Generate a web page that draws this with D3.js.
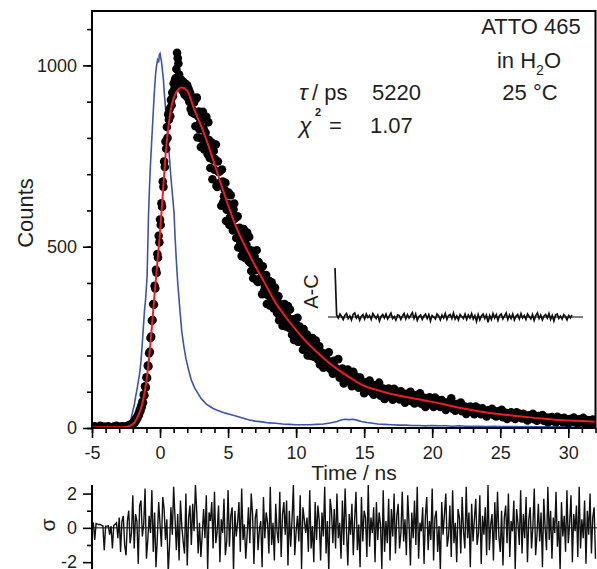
<!DOCTYPE html>
<html>
<head>
<meta charset="utf-8">
<script src="https://cdn.jsdelivr.net/npm/d3@7"></script>
<style>
body{margin:0;background:#fff;}
svg text{font-family:"Liberation Sans",Arial,sans-serif;fill:#231f20;}
</style>
</head>
<body>
<script>
// instrument response (blue), time in ns / counts
var irfT = [-5,-4.5,-4,-3.5,-3,-2.7,-2.5,-2.4,-2.3,-2.2,-2.1,-2.0,-1.9,-1.8,-1.7,-1.6,-1.5,-1.4,-1.3,-1.24,-1.15,-1.05,-0.95,-0.9,-0.85,-0.78,-0.7,-0.6,-0.5,-0.42,-0.33,-0.25,-0.18,-0.1,-0.05,0,0.05,0.1,0.18,0.25,0.32,0.4,0.5,0.6,0.7,0.8,0.92,1.03,1.1,1.2,1.3,1.45,1.6,1.75,1.9,2.1,2.3,2.55,2.8,3.0,3.2,3.4,3.65,3.9,4.2,4.5,4.8,5.1,5.5,6.0,6.5,7.0,7.5,8.0,8.5,9.0,9.5,10,10.5,11,11.5,12,12.5,13,13.3,13.6,13.9,14.2,14.5,14.8,15.2,15.6,16,16.5,17,17.5,18,18.5,19,19.5,20,20.5,21,21.5,22,22.5,23,23.5,24,24.5,25,25.5,26,26.5,27,27.5,28,28.5,29,29.5,30,30.5,31];
var irfC = [1,2,1,2,1,2,3,4,8,15,30,48,62,85,105,128,150,185,235,270,320,360,420,500,585,660,730,800,870,925,975,1000,1015,1008,1030,1033,1022,1012,985,960,920,885,840,790,740,690,640,593,530,460,400,330,265,225,192,160,132,110,95,82,74,66,60,54,49,45,41,38,34,28,23,19,17,14,13,11,10,9,9,9,10,11,14,18,22,24,23,24,21,18,15,13,11,10,9,8,8,7,7,6,7,6,6,5,6,5,5,5,4,5,4,4,4,3,4,3,3,4,3,3,3,2,3];

// fitted decay (red)
var fitT = [-5,-3,-2.5,-2.2,-2.0,-1.85,-1.6,-1.36,-1.2,-1.0,-0.8,-0.6,-0.4,-0.2,0,0.2,0.4,0.6,0.8,1.0,1.3,1.6,2.0,2.5,3.0,3.5,4.0,4.5,5.0,5.5,6.0,6.5,7.0,7.5,8.0,8.5,9.0,9.5,10,10.5,11,11.5,12,12.5,13,13.5,14,14.5,15,16,17,18,19,20,21,22,23,24,25,26,27,28,29,30,31,32];
var fitC = [2,2,3,6,11,17,34,59,85,130,195,280,370,455,540,645,750,825,880,910,932,939,930,880,835,785,728,670,615,563,520,483,447,413,378,345,318,293,270,248,228,210,193,177,163,150,138,126,116,104,94,86,79,72,64,56,49,43,38,34,30,26,23,21,19,17];

// measured decay (black dots), channel blocks
var preStart = -5, preStep = 0.2;
var preCounts = [3,5,2,6,4,3,5,2,4,6,3,5,4];
var riseStart = -2.5, riseStep = 0.05;
var riseCounts = [4,2,6,3,7,4,9,6,11,8,
  14,12,18,16,24,21,30,28,38,36,
  49,46,60,57,72,70,92,90,115,112,
  140,138,172,170,206,210,248,252,296,298,
  342,340,392,385,436,428,480,470,530,512,
  575,560,620,610,680,665,735,720,790,770,
  830,800,865,850,880,860,905,890,925,915,
  950,935,960,965,990,1035,1020,1005,975,965,
  945,960,950,930,955,940,920,950,935,915,
  945,910,935,900,925,880,915,870,900,875];
var tailStart = 2.5, tailStep = 0.1;
var tailCounts = [898,832,911,860,823,775,857,826,798,858,
  755,794,717,787,740,712,782,665,706,708,
  613,680,639,676,602,618,560,642,572,603,
  577,524,584,542,513,474,537,513,493,539,
  461,491,433,489,454,435,490,403,437,440,
  369,422,392,422,367,380,337,402,349,374,
  356,317,363,333,310,282,332,314,299,336,
  276,299,257,300,275,260,304,238,265,267,
  216,256,235,258,218,230,199,248,210,231,
  218,189,225,203,186,166,204,192,180,209,
  163,183,150,185,166,155,190,139,161,164,
  123,157,141,161,129,139,115,155,125,142,
  132,111,139,122,111,96,126,117,110,131,
  100,115,92,118,105,98,125,89,105,109,
  80,105,94,109,87,95,78,108,88,101,
  95,79,101,90,81,70,94,87,82,100,
  74,86,68,90,80,75,96,67,80,83,
  58,81,71,85,66,73,58,84,65,78,
  72,58,77,67,60,50,70,64,60,82,
  53,64,48,66,57,52,70,46,57,59,
  39,57,49,59,44,50,38,59,44,54,
  49,38,54,45,40,32,49,44,41,53,
  36,44,32,46,39,35,50,30,39,42,
  25,40,33,43,29,35,25,43,31,39,
  35,26,39,32,27,21,35,31,28,39,
  24,31,20,33,27,24,36,20,27,29,
  16,28,23,30,19,23,16,31,20,27,
  24,16,28,22,18,13,25,22,19,29,
  16,23,13,24,19,17,28,13,20,22,
  10,21,16,23,13,17];
var midStart = 2.55, midStep = 0.1;
var midCounts = [866,908,801,873,843,798,872,768,814,786,
  843,745,767,686,764,742,668,735,675,676,
  713,623,657,571,644,649,582,595,545,619,
  551,582,498,552,527,492,549,469,505,484,
  527,455,473,413,473,459,405,458,413,416,
  446,379,407,342,399,405,354,366,330,387,
  336,362,297,341,323,296,342,280,308,294,
  327,273,287,243,289,279,238,280,246,250,
  273,225,247,200,244,248,212,222,196,241,
  203,224,175,209,197];

// weighted residuals
var resStart = -5, resStep = 0.1;
var residuals = [0.3,0.28,-0.7,0.25,0.22,0.2,0.2,0.15,0.12,-1.3,0.1,0.1,0.12,-0.4,0.1,-1.2,0.15,0.2,0.3,-0.6,0.6,-1.4,0.4,0.7,-1.0,
  -1.6,0.4,1.0,-0.9,-0.3,1.9,-1.2,0.8,0.4,-2.1,1.3,1.6,-0.5,0.2,2.3,-1.8,-0.7,0.7,-0.3,2.2,
  -1.4,0.9,-2.3,-0.6,1.5,0.2,-1.1,1.8,1.1,-0.7,0.5,-2.6,-1.0,1.2,-0.4,2.4,0.6,-1.3,0.8,-1.9,
  1.6,0.1,-0.8,-1.5,2.0,-2.2,0.6,1.3,-1.0,1.4,-0.2,2.5,0.9,-1.5,0.3,-1.7,-0.4,1.1,-0.6,1.9,
  -2.4,0.9,0.4,1.5,-1.2,2.1,-0.9,-0.2,1.3,-2.0,0.5,-0.3,1.7,-1.6,-0.8,2.2,-1.1,0.7,1.2,-2.5,
  1.0,-0.5,0.3,1.5,-1.4,2.3,-0.7,0.2,-1.8,-0.4,1.2,-0.9,2.0,0.8,-2.1,0.6,1.1,-1.3,-0.1,0.4,
  -2.3,1.8,-0.6,0.9,0.3,-1.5,2.4,-1.0,0.3,-1.9,1.4,-0.2,-0.9,2.1,-1.7,0.8,1.5,-0.4,1.6,-2.2,
  1.0,-1.1,0.5,2.5,-1.6,-0.2,0.7,-0.8,1.9,-2.4,1.2,0.5,-0.3,0.6,-1.4,2.2,-1.2,0.1,-2.0,1.5,
  -0.7,1.3,0.4,-1.9,0.9,-0.5,2.4,-1.5,0.4,-2.6,1.7,1.0,-0.9,1.1,-1.2,2.0,-0.6,0.3,-1.8,1.6,
  -1.0,2.3,-0.1,-2.2,0.8,-0.4,1.4,-1.6,0.5,2.1,-1.3,0.2,-2.3,1.8,-0.8,1.0,0.6,-1.7,2.5,-1.1,
  0.6,-0.3,1.2,-2.0,1.5,-0.7,0.9,0.2,-2.4,2.2,-1.4,0.4,-0.9,1.7,-1.9,1.1,-0.5,2.0,-1.5,0.7,
  1.4,-1.2,-0.3,2.1,-0.8,0.5,-1.6,1.9,0.2,-2.2,0.9,-0.6,1.6,-1.0,2.4,-1.8,0.3,-0.2,1.2,-2.1,
  0.7,1.8,-1.3,0.4,-0.7,2.3,-1.9,0.6,1.0,-1.4,0.1,-2.5,1.5,-0.4,0.8,2.0,-1.1,-0.5,1.3,-1.7,
  2.2,-0.9,0.3,-2.0,1.1,0.6,-1.5,1.8,-0.2,-1.2,2.4,-0.6,0.9,-2.3,1.4,-0.8,0.5,1.7,-1.0,-0.3,
  1.9,-2.1,0.7,-0.4,1.2,-1.6,2.5,-1.3,0.2,0.8,-1.9,1.5,-0.7,2.1,-0.5,-1.4,1.0,-2.2,0.6,1.3,
  -0.9,2.0,-1.7,0.4,-0.2,1.6,-2.4,1.1,0.3,-1.0,2.2,-1.5,0.8,-0.6,1.8,-2.0,0.5,1.2,-1.2,0.1,
  2.3,-1.6,-0.4,1.4,-0.8,0.9,-2.3,1.7,0.0,-1.3,2.4,-0.7,1.0,-1.8,0.6,-0.3,2.1,-1.1,0.4,-2.5,
  1.5,-0.5,0.7,-1.4,2.2,-0.9,0.3,1.9,-2.0,0.8,-0.2,1.3,-1.7,2.4,-1.2,
  0.5,-0.6,1.6,-2.1,1.0,-0.4,2.0,-1.5,0.6,1.2,-1.8];

// autocorrelation of residuals (inset)
var acValues = [1.0,0.04,-0.02,0.06,0.01,-0.05,0.03,0.07,-0.03,0.02,-0.06,
  0.05,0.08,-0.02,0.03,-0.07,0.01,0.05,-0.04,0.06,-0.01,
  0.03,-0.05,0.07,0.02,-0.03,0.04,-0.08,0.01,0.05,-0.02,
  0.06,-0.04,0.02,0.08,-0.03,0.01,-0.06,0.04,0.03,-0.05,
  0.02,0.07,-0.04,0.05,-0.02,0.03,0.09,-0.03,0.06,-0.07,
  0.01,0.04,-0.05,0.02,0.06,-0.03,0.05,-0.08,0.03,0.0,
  -0.04,0.06,0.02,-0.06,0.04,-0.02,0.07,-0.05,0.03,0.05,
  -0.03,0.08,-0.04,0.02,-0.06,0.05,0.01,-0.03,0.06,-0.05,
  0.04,-0.02,0.07,-0.04,0.03,-0.09,0.05,-0.06,0.02,0.06,
  -0.03,0.04,-0.11,0.03,-0.05,0.07,-0.02,0.05,-0.07,0.03,
  0.06,-0.04,0.02,0.08,-0.05,0.04,-0.03,0.06,-0.06,0.02,
  0.05,-0.04,0.07,-0.02,0.03,-0.05,0.06,0.01,-0.04,0.05,
  -0.07,0.03,0.08,-0.03,0.04,-0.06,0.02,0.05,-0.02,0.07,
  -0.05,0.03,-0.08,0.04,0.06,-0.03,0.02,-0.04,0.05,0.01,-0.06,0.03,-0.02,0.04];

var xMajor = [-5,0,5,10,15,20,25,30];
var yMajor = [0,500,1000];
var resMajor = [-2,0,2];

var width = 597, height = 569;
var svg = d3.select('body').append('svg').attr('width', width).attr('height', height);

var x = d3.scaleLinear().domain([-5,32]).range([92,595.5]);
var y = d3.scaleLinear().domain([0,1150]).range([428,11]);
var yRes = d3.scaleLinear().domain([-2.4,2.5]).range([569,485]);

svg.append('clipPath').attr('id','plotClip').append('rect')
    .attr('x',92).attr('y',11).attr('width',503.5).attr('height',417);
svg.append('clipPath').attr('id','resClip').append('rect')
    .attr('x',92).attr('y',470).attr('width',505).attr('height',99);

var channels = function(start, step, counts){
    return counts.map(function(c, i){ return {t: start + i*step, c: c}; });
};
var dots = channels(preStart, preStep, preCounts)
    .concat(channels(riseStart, riseStep, riseCounts))
    .concat(channels(tailStart, tailStep, tailCounts))
    .concat(channels(midStart, midStep, midCounts));

var plot = svg.append('g').attr('clip-path','url(#plotClip)');

plot.append('path')
    .datum(d3.zip(irfT, irfC))
    .attr('fill','none').attr('stroke','#3c55a5').attr('stroke-width',1.6)
    .attr('d', d3.line().x(function(d){return x(d[0]);}).y(function(d){return y(d[1]);}));

plot.selectAll('.dot').data(dots).enter().append('circle')
    .attr('class','dot')
    .attr('cx', function(d){return x(d.t);})
    .attr('cy', function(d){return y(d.c);})
    .attr('r', 4.3)
    .attr('fill','#000');

plot.append('path')
    .datum(d3.zip(fitT, fitC))
    .attr('fill','none').attr('stroke','#ee1c25').attr('stroke-width',2)
    .attr('d', d3.line().curve(d3.curveMonotoneX)
        .x(function(d){return x(d[0]);}).y(function(d){return y(d[1]);}));

// inset A-C
var acX = d3.scaleLinear().domain([0, acValues.length-1]).range([335,572]);
var acY = d3.scaleLinear().domain([0,1]).range([317,268]);
svg.append('line').attr('x1',328).attr('x2',583).attr('y1',acY(0)).attr('y2',acY(0))
    .attr('stroke','#000').attr('stroke-width',1.2);
svg.append('path').datum(acValues)
    .attr('fill','none').attr('stroke','#111').attr('stroke-width',1.7)
    .attr('d', d3.line().x(function(d,i){return acX(i);}).y(function(d){return acY(d);}));
svg.append('text').attr('transform','translate(318,291.5) rotate(-90)')
    .attr('text-anchor','middle').attr('font-size',20).text('A-C');

// frame
svg.append('rect').attr('x',92).attr('y',11).attr('width',503.5).attr('height',417)
    .attr('fill','none').attr('stroke','#000').attr('stroke-width',2);

var styleAxis = function(g){
    g.select('.domain').remove();
    g.selectAll('line').attr('stroke','#000').attr('stroke-width',1.6);
    g.selectAll('text').attr('font-size',18).attr('fill','#231f20')
        .attr('font-family','"Liberation Sans",Arial,sans-serif');
};

svg.append('g').attr('transform','translate(0,428)')
    .call(d3.axisBottom(x).tickValues(d3.range(-5,33)).tickSize(5).tickFormat(''))
    .call(styleAxis);
svg.append('g').attr('transform','translate(0,428)')
    .call(d3.axisBottom(x).tickValues(xMajor).tickSize(10).tickPadding(8)
        .tickFormat(function(d){return String(d);}))
    .call(styleAxis);
svg.append('g').attr('transform','translate(92,0)')
    .call(d3.axisLeft(y).tickValues(d3.range(0,1101,100)).tickSize(5).tickFormat(''))
    .call(styleAxis);
svg.append('g').attr('transform','translate(92,0)')
    .call(d3.axisLeft(y).tickValues(yMajor).tickSize(9).tickPadding(6)
        .tickFormat(function(d){return String(d);}))
    .call(styleAxis);

svg.append('text').attr('transform','translate(33,213) rotate(-90)')
    .attr('text-anchor','middle').attr('font-size',22).text('Counts');
svg.append('text').attr('x',354).attr('y',480)
    .attr('text-anchor','middle').attr('font-size',21).text('Time / ns');

// annotations
svg.append('text').attr('x',531).attr('y',33.5).attr('text-anchor','middle')
    .attr('font-size',22).text('ATTO 465');
var h2o = svg.append('text').attr('x',529).attr('y',68).attr('text-anchor','middle').attr('font-size',22);
h2o.append('tspan').text('in H');
h2o.append('tspan').attr('font-size',14).attr('dy',7).text('2');
h2o.append('tspan').attr('dy',-7).text('O');
svg.append('text').attr('x',530).attr('y',100).attr('text-anchor','middle')
    .attr('font-size',22).text('25 \u00b0C');

svg.append('text').attr('x',299).attr('y',100).attr('font-size',23)
    .attr('font-family','"Liberation Serif",serif').attr('font-style','italic').text('\u03c4');
svg.append('text').attr('x',312).attr('y',100).attr('font-size',22).text('/ ps');
svg.append('text').attr('x',372).attr('y',100).attr('font-size',22).text('5220');
svg.append('text').attr('x',299).attr('y',133).attr('font-size',23)
    .attr('font-family','"Liberation Serif",serif').attr('font-style','italic').text('\u03c7');
svg.append('text').attr('x',315).attr('y',116).attr('font-size',11).attr('font-weight','bold').text('2');
svg.append('text').attr('x',329).attr('y',133).attr('font-size',22).text('=');
svg.append('text').attr('x',370).attr('y',133).attr('font-size',22).text('1.07');

// residual panel
var res = channels(resStart, resStep, residuals);
svg.append('line').attr('x1',92).attr('x2',597).attr('y1',yRes(0)).attr('y2',yRes(0))
    .attr('stroke','#000').attr('stroke-width',1);
svg.append('g').attr('clip-path','url(#resClip)').append('path')
    .datum(res)
    .attr('fill','none').attr('stroke','#111').attr('stroke-width',1.4)
    .attr('d', d3.line().x(function(d){return x(d.t);}).y(function(d){return yRes(d.c);}));
svg.append('line').attr('x1',92).attr('x2',92).attr('y1',485).attr('y2',569)
    .attr('stroke','#000').attr('stroke-width',2);
svg.append('g').attr('transform','translate(92,0)')
    .call(d3.axisLeft(yRes).tickValues([-1,1]).tickSize(5).tickFormat(''))
    .call(styleAxis);
svg.append('g').attr('transform','translate(92,0)')
    .call(d3.axisLeft(yRes).tickValues(resMajor).tickSize(9).tickPadding(6)
        .tickFormat(function(d){return String(d);}))
    .call(styleAxis);
svg.append('text').attr('transform','translate(55,525) rotate(-90)')
    .attr('text-anchor','middle').attr('font-size',21).text('\u03c3');
</script>
</body>
</html>
